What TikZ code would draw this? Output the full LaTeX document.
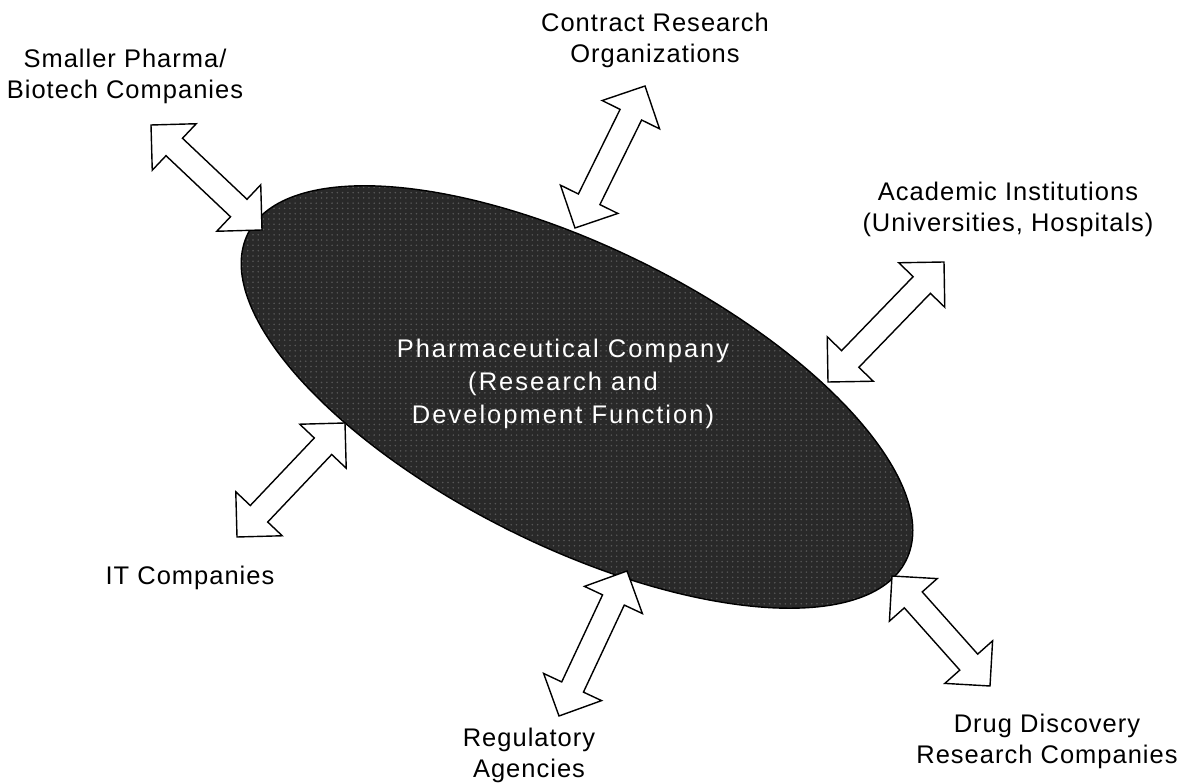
\documentclass[tikz,border=0pt]{standalone}
\usepackage{fontspec}
\setmainfont{Liberation Sans}
\newfontfamily\outerfont[LetterSpace=4]{Liberation Sans}
\newfontfamily\innerfont[LetterSpace=8]{Liberation Sans}
\usepackage{tikz}
\usetikzlibrary{calc,shapes.geometric,patterns}
\definecolor{corefill}{HTML}{292929}
\definecolor{speckle}{HTML}{575757}

\begin{document}
\begin{tikzpicture}[
  x=0.02cm, y=-0.02cm,
  partner/.style={font=\outerfont\fontsize{14.5}{17.6}\selectfont,align=center,inner sep=0pt},
  core/.style={ellipse,draw=black,line width=.8pt,preaction={fill=corefill},pattern=dots,pattern color=speckle,
    minimum width=14.7cm,minimum height=5.98cm,inner sep=0pt,rotate=-26.4},
  twoway/.style={draw=black,fill=white,line width=.8pt,line join=miter,
    to path={
      -- ($(\tikztostart)!.64cm!(\tikztotarget)!.64cm!90:(\tikztotarget)$)
      -- ($(\tikztostart)!.64cm!(\tikztotarget)!.24cm!90:(\tikztotarget)$)
      -- ($(\tikztotarget)!.64cm!(\tikztostart)!.24cm!-90:(\tikztostart)$)
      -- ($(\tikztotarget)!.64cm!(\tikztostart)!.64cm!-90:(\tikztostart)$)
      -- (\tikztotarget)
      -- ($(\tikztotarget)!.64cm!(\tikztostart)!.64cm!90:(\tikztostart)$)
      -- ($(\tikztotarget)!.64cm!(\tikztostart)!.24cm!90:(\tikztostart)$)
      -- ($(\tikztostart)!.64cm!(\tikztotarget)!.24cm!-90:(\tikztotarget)$)
      -- ($(\tikztostart)!.64cm!(\tikztotarget)!.64cm!-90:(\tikztotarget)$)
      -- cycle}},
]
\useasboundingbox[fill=white] (0,0) rectangle (1177,783);

\node[core] (pharma) at (577,397) {};
\node[font=\innerfont\fontsize{14.5}{18.7}\selectfont,text=white,align=center] (pharmatext) at (563,384)
  {Pharmaceutical Company\\(Research and\\Development Function)};

\node[partner] (smaller) at (125,76) {Smaller Pharma/\\Biotech Companies};
\node[partner] (cro) at (655,40) {Contract Research\\Organizations};
\node[partner] (academic) at (1008,209) {Academic Institutions\\(Universities, Hospitals)};
\node[partner] (itco) at (190,578) {IT Companies};
\node[partner] (regulatory) at (529,755) {Regulatory\\Agencies};
\node[partner] (drugdisc) at (1047,741) {Drug Discovery\\Research Companies};

% arrow ends: outer tip, tip on the ellipse
\coordinate (smallout) at (151,125);  \coordinate (smallin) at (262,230);
\coordinate (croout) at (645,86);     \coordinate (croin) at (575,228);
\coordinate (acadout) at (944,262);   \coordinate (acadin) at (828,382);
\coordinate (itout) at (237,537);     \coordinate (itin) at (345,423);
\coordinate (regout) at (559,716);    \coordinate (regin) at (627,571);
\coordinate (drugout) at (990,686);   \coordinate (drugin) at (892,576);

\draw[twoway] (smallout) to (smallin);
\draw[twoway] (croout) to (croin);
\draw[twoway] (acadout) to (acadin);
\draw[twoway] (itout) to (itin);
\draw[twoway] (regout) to (regin);
\draw[twoway] (drugout) to (drugin);
\end{tikzpicture}
\end{document}
